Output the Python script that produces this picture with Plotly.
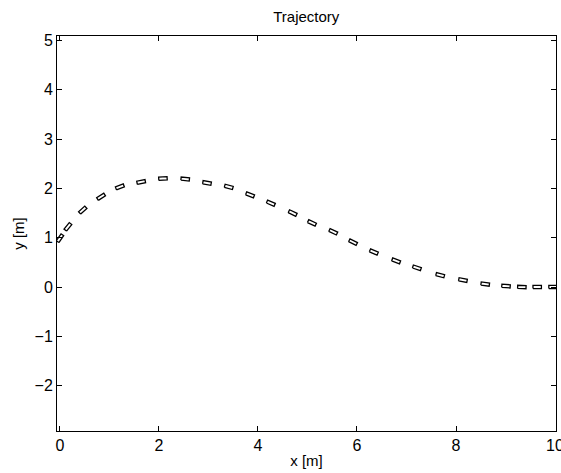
import numpy as np
import plotly.graph_objects as go

# Sampled vehicle positions along the path [m]
x_pos = [0.00, 0.16, 0.46, 0.83, 1.21, 1.64, 2.08, 2.53, 2.97, 3.41, 3.84, 4.26, 4.70,
         5.09, 5.52, 5.92, 6.34, 6.79, 7.21, 7.68, 8.14, 8.59, 9.01, 9.33, 9.64, 9.96]
y_pos = [0.99, 1.22, 1.56, 1.83, 2.03, 2.13, 2.20, 2.19, 2.11, 2.03, 1.87, 1.70, 1.50,
         1.30, 1.12, 0.91, 0.71, 0.53, 0.39, 0.24, 0.14, 0.06, 0.02, 0.00, 0.00, 0.00]

x_ticks = [0, 2, 4, 6, 8, 10]
y_ticks = [-2, -1, 0, 1, 2, 3, 4, 5]

# Vehicle footprint [m]
body_len = 0.17
body_wid = 0.065

xa = np.array(x_pos)
ya = np.array(y_pos)
heading = np.arctan2(np.gradient(ya), np.gradient(xa))

# Build one outline polygon per sample, separated by None
corners = np.array([[-0.5, -0.5], [0.5, -0.5], [0.5, 0.5], [-0.5, 0.5], [-0.5, -0.5]])
corners = corners * np.array([body_len, body_wid])
px, py = [], []
for cx, cy, th in zip(xa, ya, heading):
    c, s = np.cos(th), np.sin(th)
    for u, v in corners:
        px.append(cx + c * u - s * v)
        py.append(cy + s * u + c * v)
    px.append(None)
    py.append(None)

fig = go.Figure()
fig.add_trace(go.Scatter(x=px, y=py, mode="lines",
                         line=dict(color="black", width=1.3), hoverinfo="skip",
                         showlegend=False, cliponaxis=False))

axis_common = dict(showline=True, linecolor="black", linewidth=1, mirror="ticks",
                   ticks="inside", ticklen=5, tickcolor="black", showgrid=False,
                   zeroline=False, ticklabeloverflow="allow", automargin=False,
                   tickfont=dict(size=16, color="black"))

fig.update_layout(
    width=561, height=473,
    margin=dict(l=57, r=5, t=36, b=42),
    paper_bgcolor="white", plot_bgcolor="white",
    font=dict(family="Liberation Sans, Arial, sans-serif", color="black", size=15),
    title=dict(text="Trajectory", x=0.546, xanchor="center", y=0.975, yanchor="top",
               font=dict(size=15)),
    xaxis=dict(range=[-0.06, 10.02], tickvals=x_ticks,
               title=dict(text="x [m]", standoff=2, font=dict(size=15)), **axis_common),
    yaxis=dict(range=[-2.92, 5.09], tickvals=y_ticks,
               title=dict(text="y [m]", standoff=6, font=dict(size=15)), **axis_common),
)

fig.write_html("out.html")
